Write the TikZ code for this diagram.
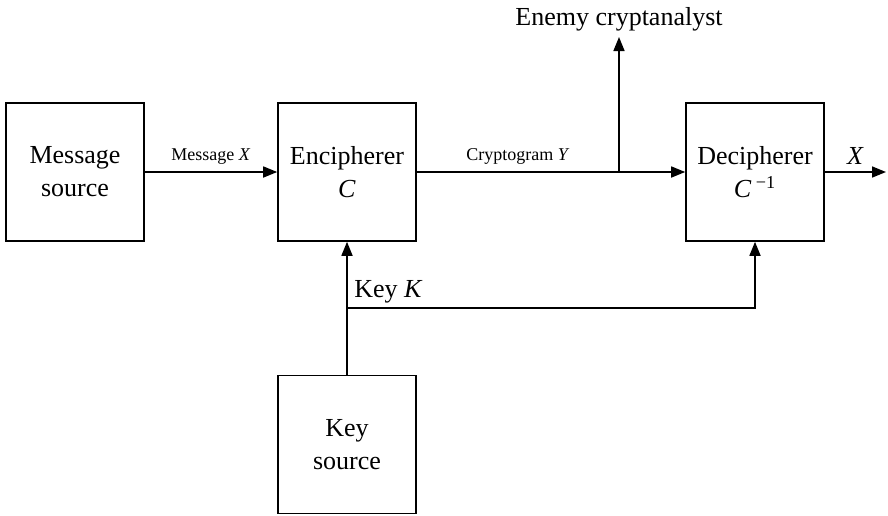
\documentclass[tikz,border=0pt]{standalone}
\usepackage{fontspec}
\setmainfont{Liberation Serif}
\usetikzlibrary{arrows.meta}
\tikzset{>={Triangle[length=7pt,width=5.5pt]}}
\tikzset{
  block/.style={draw,line width=0.8pt,minimum width=69pt,minimum height=69pt,
    align=center,font=\fontsize{13}{16.5}\selectfont},
  flow/.style={line width=0.8pt},
  small label/.style={font=\fontsize{9}{11}\selectfont},
  big label/.style={font=\fontsize{13}{15}\selectfont}
}

\begin{document}
\begin{tikzpicture}[x=0.5pt,y=-0.5pt]
    \useasboundingbox (0,0) rectangle (888,515);
    % blocks
    \node[block] (msg) at (75,172) {Message\\source};
    \node[block] (enc) at (347,172) {Encipherer\\\textit{C}};
    \node[block] (dec) at (755,172) {Decipherer\\\textit{C}\,\textsuperscript{−1}};
    \node[block] (key) at (347,444.5) {Key\\source};
    \coordinate (tap) at (619,172);
    \coordinate (spy) at (619,37);
    \coordinate (split) at (347,308);
    \coordinate (out) at (886,172);
    \node[big label,anchor=base] (enemy) at (619,25) {Enemy cryptanalyst};
    \node[big label,anchor=base west,inner sep=0pt] (keylabel) at (354,297) {Key \textit{K}};
    % connections
    \draw[flow,->] (msg) -- node[above,small label]{Message \textit{X}} (enc);
    \draw[flow] (enc) -- node[above,small label]{Cryptogram \textit{Y}} (tap);
    \draw[flow,->] (tap) -- (dec);
    \draw[flow,->] (tap) -- (spy);
    \draw[flow,->] (dec) -- node[above,big label]{\textit{X}} (out);
    \draw[flow,->] (key) -- (enc);
    \draw[flow,->] (split) -| (dec);
\end{tikzpicture}
\end{document}
